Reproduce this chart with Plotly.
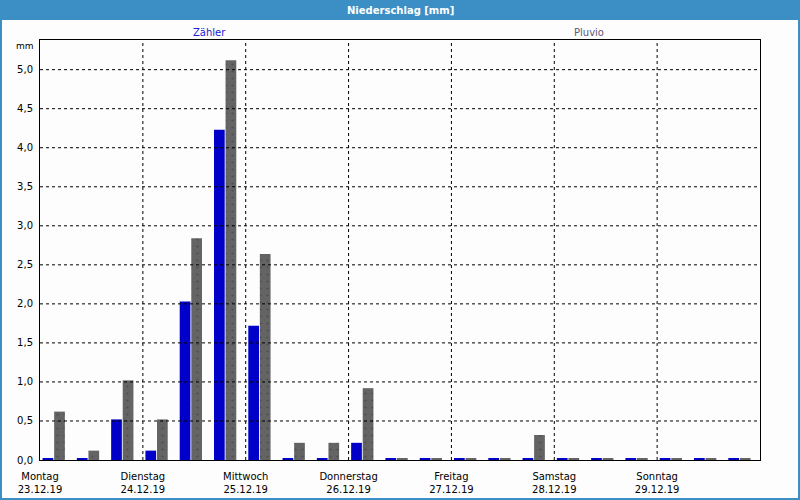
import plotly.graph_objects as go

# 8-hour slots over one week (hours since Montag 23.12.19 00:00)
slot_start_hours = [0, 8, 16, 24, 32, 40, 48, 56, 64, 72, 80, 88, 96, 104, 112, 120, 128, 136, 144, 152, 160]
zaehler = [0.02, 0.02, 0.52, 0.12, 2.03, 4.23, 1.72, 0.02, 0.02, 0.22, 0.02,
           0.02, 0.02, 0.02, 0.02, 0.02, 0.02, 0.02, 0.02, 0.02, 0.02]
pluvio = [0.62, 0.12, 1.02, 0.52, 2.84, 5.12, 2.64, 0.22, 0.22, 0.92, 0.02,
          0.02, 0.02, 0.02, 0.32, 0.02, 0.02, 0.02, 0.02, 0.02, 0.02]

day_ticks = [0, 24, 48, 72, 96, 120, 144]
day_names = ["Montag", "Dienstag", "Mittwoch", "Donnerstag", "Freitag", "Samstag", "Sonntag"]
day_dates = ["23.12.19", "24.12.19", "25.12.19", "26.12.19", "27.12.19", "28.12.19", "29.12.19"]
y_ticks = [0.0, 0.5, 1.0, 1.5, 2.0, 2.5, 3.0, 3.5, 4.0, 4.5, 5.0]

W, H = 800, 500
L, R, T, B = 40, 40, 40, 40
PW, PH = W - L - R, H - T - B
def px(x):
    return (x - L) / PW
def py(y):
    return (H - B - y) / PH

FONT = "DejaVu Sans"
BLUE_BAR = "#0000c8"
GRAY_BAR = "#646464"
FRAME = "#3c8fc4"
BG = "#fcfdfc"

fig = go.Figure()
fig.add_trace(go.Bar(
    x=slot_start_hours, y=zaehler, name="Zähler",
    offset=0.6, width=2.5,
    marker=dict(color=BLUE_BAR, line=dict(width=0)),
))
fig.add_trace(go.Bar(
    x=slot_start_hours, y=pluvio, name="Pluvio",
    offset=3.3, width=2.5,
    marker=dict(color=GRAY_BAR, line=dict(width=0),
                pattern=dict(shape=".", fgcolor="#383838", bgcolor=GRAY_BAR,
                             size=7, solidity=0.08)),
))

shapes = []
# dashed grid drawn above bars
for t in day_ticks[1:]:
    shapes.append(dict(type="line", xref="x", yref="paper", x0=t, x1=t, y0=0, y1=1,
                       line=dict(color="black", width=1, dash="3px,3px"), layer="above"))
for v in y_ticks[1:]:
    shapes.append(dict(type="line", xref="paper", yref="y", x0=0, x1=1, y0=v, y1=v,
                       line=dict(color="black", width=1, dash="3px,3px"), layer="above"))
# title bar
shapes.append(dict(type="rect", xref="paper", yref="paper",
                   x0=px(0), x1=px(800), y0=py(20), y1=py(0),
                   fillcolor=FRAME, line=dict(width=0), layer="above"))
# window border
shapes.append(dict(type="rect", xref="paper", yref="paper",
                   x0=px(1), x1=px(799), y0=py(499), y1=py(0),
                   fillcolor="rgba(0,0,0,0)", line=dict(color=FRAME, width=2), layer="above"))

annotations = [
    dict(text="<b>Niederschlag [mm]</b>", xref="paper", yref="paper", x=0.5, y=py(10),
         xanchor="center", yanchor="middle", showarrow=False,
         font=dict(family=FONT, size=10, color="white")),
    dict(text="Zähler", xref="paper", yref="paper", x=px(209), y=py(32),
         xanchor="center", yanchor="middle", showarrow=False,
         font=dict(family=FONT, size=10, color="#2020d8")),
    dict(text="Pluvio", xref="paper", yref="paper", x=px(589), y=py(32),
         xanchor="center", yanchor="middle", showarrow=False,
         font=dict(family=FONT, size=10, color="#605878")),
    dict(text="mm", xref="paper", yref="paper", x=px(36), y=py(46),
         xanchor="right", yanchor="middle", showarrow=False,
         font=dict(family=FONT, size=9, color="black")),
]

fig.update_layout(
    width=W, height=H, autosize=False,
    margin=dict(l=L, r=R, t=T, b=B, pad=0),
    paper_bgcolor=BG, plot_bgcolor=BG,
    barmode="overlay", showlegend=False,
    separators=",.",
    font=dict(family=FONT, size=10, color="black"),
    shapes=shapes, annotations=annotations,
    xaxis=dict(range=[0, 168], tickvals=day_ticks,
               ticktext=[f"{n}<br>{d}" for n, d in zip(day_names, day_dates)],
               showgrid=False, zeroline=False, showline=True, mirror=True,
               linecolor="black", linewidth=1, ticks="", ticklabelstandoff=7,
               automargin=False,
               tickfont=dict(family=FONT, size=10)),
    yaxis=dict(range=[0, 5.38], tickvals=y_ticks, tickformat=".1f",
               showgrid=False, zeroline=False, showline=True, mirror=True,
               linecolor="black", linewidth=1, ticks="", ticklabelstandoff=4,
               automargin=False,
               tickfont=dict(family=FONT, size=10)),
)

fig.write_html("out.html")
